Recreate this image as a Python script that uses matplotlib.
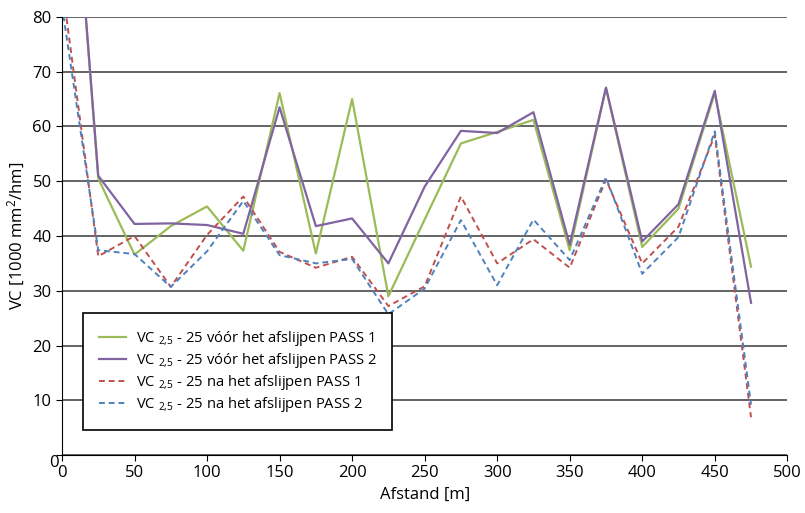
import numpy as np
import matplotlib
matplotlib.use("Agg")
import matplotlib.pyplot as plt
from matplotlib.transforms import ScaledTranslation

plt.rcParams['font.family'] = ['Open Sans', 'DejaVu Sans']
plt.rcParams['mathtext.fontset'] = 'custom'
plt.rcParams['mathtext.rm'] = 'Open Sans'
plt.rcParams['mathtext.it'] = 'Open Sans:italic'

afstand = [0, 25, 50, 75, 100, 125, 150, 175, 200, 225, 250, 275, 300, 325, 350, 375, 400, 425, 450, 475]

voor_pass1 = [136, 50.5, 36.6, 41.8, 45.4, 37.3, 66.1, 36.8, 65.0, 29.0, 43.0, 56.9, 59.0, 61.2, 37.4, 67.0, 38.0, 45.0, 66.1, 34.4]
voor_pass2 = [136, 51.0, 42.2, 42.3, 42.0, 40.4, 63.5, 41.8, 43.2, 35.0, 49.0, 59.2, 58.8, 62.6, 38.4, 67.1, 39.0, 45.8, 66.5, 27.8]
na_pass1 = [86, 36.3, 40.0, 30.7, 40.2, 47.2, 37.1, 34.2, 36.2, 27.2, 30.8, 47.2, 35.0, 39.4, 34.2, 50.3, 35.0, 41.7, 58.4, 6.9]
na_pass2 = [82, 37.4, 36.7, 30.7, 37.2, 46.4, 36.5, 35.0, 35.8, 25.7, 30.4, 42.9, 31.0, 43.0, 35.6, 50.7, 33.1, 39.8, 59.1, 9.2]

labels = [r"VC $_\mathrm{2{,}5}$ - 25 vóór het afslijpen PASS 1",
          r"VC $_\mathrm{2{,}5}$ - 25 vóór het afslijpen PASS 2",
          r"VC $_\mathrm{2{,}5}$ - 25 na het afslijpen PASS 1",
          r"VC $_\mathrm{2{,}5}$ - 25 na het afslijpen PASS 2"]

fig = plt.figure(figsize=(8.05, 5.13), dpi=100)
ax = fig.add_axes([0.077, 0.113, 0.901, 0.854])

ax.plot(afstand, voor_pass1, color='#9BBB59', lw=1.6, label=labels[0])
ax.plot(afstand, voor_pass2, color='#8064A2', lw=1.6, label=labels[1])
ax.plot(afstand, na_pass1, color='#C0504D', lw=1.4, ls=(0, (3, 2)), label=labels[2])
ax.plot(afstand, na_pass2, color='#4F81BD', lw=1.4, ls=(0, (3, 2)), label=labels[3])

ax.set_xlim(0, 500)
ax.set_ylim(0, 80)
ax.set_xticks(range(0, 501, 50))
ax.set_yticks(range(0, 81, 10))
ax.yaxis.grid(True, color='#3a3a3a', lw=1.1)
ax.set_axisbelow(True)
for s in ['top', 'right']:
    ax.spines[s].set_visible(False)
ax.spines['left'].set_color('black')
ax.spines['bottom'].set_color('black')
ax.tick_params(axis='both', labelsize=12, direction='out', length=4, color='black')

# the y "0" sits a bit lower, overlapping the x "0" (as in the original)
fig.canvas.draw()
lbl0 = ax.yaxis.get_major_ticks()[0].label1
lbl0.set_transform(lbl0.get_transform() + ScaledTranslation(7 / 100, -6 / 100, fig.dpi_scale_trans))

ax.set_xlabel("Afstand [m]", fontsize=12)
ax.set_ylabel(r"VC [1000 mm$^2$/hm]", fontsize=12)

leg = ax.legend(loc='upper left', bbox_to_anchor=(0.029, 0.062, 0.426, 0.262), mode='expand',
                borderaxespad=0, fontsize=10.6, frameon=True, fancybox=False,
                handlelength=1.8, handletextpad=0.7, labelspacing=0.2, borderpad=1.1,
                framealpha=1)
leg.get_frame().set_edgecolor('black')
leg.get_frame().set_linewidth(1.2)

fig.savefig("out.png", dpi=100)
